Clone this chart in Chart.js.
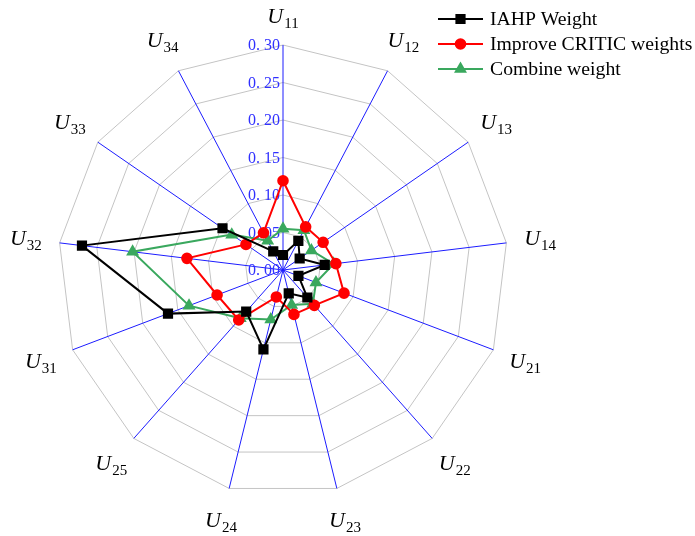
<!DOCTYPE html>
<html>
<head>
<meta charset="utf-8">
<script src="https://cdn.jsdelivr.net/npm/chart.js@4.4.0/dist/chart.umd.min.js"></script>
<style>
  html, body { margin: 0; padding: 0; background: #fff; }
  #wrap { width: 695px; height: 536px; position: relative; }
</style>
</head>
<body>
<div id="wrap"><canvas id="radarChart"></canvas></div>
<script>
// indicator codes: U with subscript
const indicators = ['11', '12', '13', '14', '21', '22', '23', '24', '25', '31', '32', '33', '34'];
const iahpWeight = [0.020, 0.044, 0.027, 0.056, 0.022, 0.049, 0.032, 0.109, 0.074, 0.164, 0.270, 0.098, 0.028];
const criticWeight = [0.119, 0.065, 0.065, 0.071, 0.087, 0.063, 0.061, 0.037, 0.089, 0.094, 0.129, 0.060, 0.056];
const combineWeight = [0.055, 0.060, 0.046, 0.068, 0.047, 0.060, 0.048, 0.068, 0.086, 0.134, 0.202, 0.083, 0.044];
const tickValues = [0, 0.05, 0.10, 0.15, 0.20, 0.25, 0.30];
const seriesNames = ['IAHP Weight', 'Improve CRITIC weights', 'Combine weight'];

const BLACK = '#000000', RED = '#ff0000', GREEN = '#3aa85e';
const SERIF = '"Liberation Serif", "Times New Roman", serif';

// blue tick labels, right-aligned against the vertical axis
const tickLabelPlugin = {
  id: 'tickLabels',
  beforeDatasetsDraw(chart) {
    const scale = chart.scales.r;
    const ctx = chart.ctx;
    ctx.save();
    ctx.fillStyle = '#3030ff';
    ctx.font = '16px ' + SERIF;
    ctx.textAlign = 'right';
    ctx.textBaseline = 'middle';
    tickValues.forEach(v => {
      const y = scale.yCenter - scale.getDistanceFromCenterForValue(v);
      ctx.fillText(v.toFixed(2).replace('.', '. '), scale.xCenter - 3, y + 1);
    });
    ctx.restore();
  }
};

// point labels with subscripts + legend with line/marker samples
const labelPlugin = {
  id: 'labels',
  afterDraw(chart) {
    const scale = chart.scales.r;
    const ctx = chart.ctx;
    ctx.save();
    ctx.fillStyle = '#000';
    ctx.textBaseline = 'alphabetic';
    indicators.forEach((sub, i) => {
      const dist = i === 0 ? scale.drawingArea + 28 : scale.drawingArea + 34;
      const p = scale.getPointPosition(i, dist);
      ctx.font = 'italic 22px ' + SERIF;
      const wU = ctx.measureText('U').width;
      ctx.font = '15px ' + SERIF;
      const wS = ctx.measureText(sub).width;
      const x0 = p.x - (wU + wS + 1) / 2;
      const base = p.y + 6;
      ctx.font = 'italic 22px ' + SERIF;
      ctx.fillText('U', x0, base);
      ctx.font = '15px ' + SERIF;
      ctx.fillText(sub, x0 + wU + 1, base + 5);
    });

    // legend
    const rows = [19, 44, 69];
    chart.data.datasets.forEach((ds, i) => {
      const y = rows[i];
      ctx.strokeStyle = ds.borderColor;
      ctx.lineWidth = 2;
      ctx.beginPath();
      ctx.moveTo(438, y);
      ctx.lineTo(483, y);
      ctx.stroke();
      Chart.helpers.drawPoint(ctx, {
        pointStyle: ds.pointStyle,
        radius: ds.pointRadius,
        borderWidth: 1,
        rotation: 0
      }, 460.5, y);
      ctx.fillStyle = ds.borderColor;
      ctx.fill();
      ctx.fillStyle = '#000';
      ctx.font = '19.7px ' + SERIF;
      ctx.textBaseline = 'middle';
      ctx.textAlign = 'left';
      ctx.fillText(seriesNames[i], 490, y + 1);
    });
    ctx.restore();
  }
};

new Chart(document.getElementById('radarChart'), {
  type: 'radar',
  data: {
    labels: indicators.map(s => 'U' + s),
    datasets: [{
      label: seriesNames[0],
      data: iahpWeight,
      borderColor: BLACK,
      backgroundColor: BLACK,
      pointBackgroundColor: BLACK,
      pointBorderColor: BLACK,
      pointStyle: 'rect',
      pointRadius: 5.8,
      borderWidth: 2,
      fill: false
    }, {
      label: seriesNames[1],
      data: criticWeight,
      borderColor: RED,
      backgroundColor: RED,
      pointBackgroundColor: RED,
      pointBorderColor: RED,
      pointStyle: 'circle',
      pointRadius: 4.8,
      borderWidth: 2,
      fill: false
    }, {
      label: seriesNames[2],
      data: combineWeight,
      borderColor: GREEN,
      backgroundColor: GREEN,
      pointBackgroundColor: GREEN,
      pointBorderColor: GREEN,
      pointStyle: 'triangle',
      pointRadius: 5.5,
      borderWidth: 2,
      fill: false
    }]
  },
  options: {
    responsive: true,
    maintainAspectRatio: false,
    animation: false,
    layout: {
      padding: { left: 58, right: 187, top: 45, bottom: 41 }
    },
    scales: {
      r: {
        min: 0,
        max: 0.30,
        ticks: { display: false, stepSize: 0.05 },
        pointLabels: { display: false },
        grid: { color: '#c4c4c4', lineWidth: 1 },
        angleLines: { color: '#1c1cff', lineWidth: 1 }
      }
    },
    plugins: {
      legend: { display: false },
      tooltip: { enabled: false }
    },
    elements: {
      line: { tension: 0 }
    }
  },
  plugins: [tickLabelPlugin, labelPlugin]
});
</script>
</body>
</html>
